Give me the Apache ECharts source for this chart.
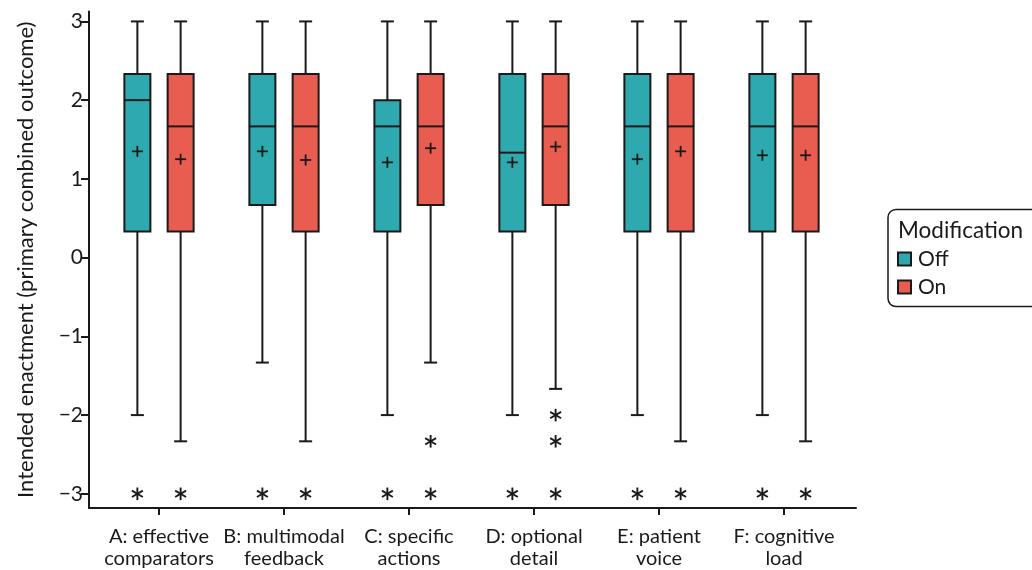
<!DOCTYPE html>
<html><head><meta charset="utf-8">
<script src="https://cdn.jsdelivr.net/npm/echarts@6/dist/echarts.min.js"></script>
<style>html,body{margin:0;padding:0;background:#fff}#c{width:1032px;height:570px}</style>
</head><body><div id="c"></div>
<script>
// ---- data ----
const categories = ['A: effective\ncomparators', 'B: multimodal\nfeedback', 'C: specific\nactions', 'D: optional\ndetail', 'E: patient\nvoice', 'F: cognitive\nload'];
const yTicks = [-3, -2, -1, 0, 1, 2, 3];
// [lower whisker, Q1, median, Q3, upper whisker]
const offBox = [
  [-2, 0.333, 2, 2.333, 3],
  [-1.333, 0.667, 1.667, 2.333, 3],
  [-2, 0.333, 1.667, 2, 3],
  [-2, 0.333, 1.333, 2.333, 3],
  [-2, 0.333, 1.667, 2.333, 3],
  [-2, 0.333, 1.667, 2.333, 3]
];
const onBox = [
  [-2.333, 0.333, 1.667, 2.333, 3],
  [-2.333, 0.333, 1.667, 2.333, 3],
  [-1.333, 0.667, 1.667, 2.333, 3],
  [-1.667, 0.667, 1.667, 2.333, 3],
  [-2.333, 0.333, 1.667, 2.333, 3],
  [-2.333, 0.333, 1.667, 2.333, 3]
];
const offMean = [1.35, 1.35, 1.21, 1.21, 1.25, 1.30];
const onMean = [1.25, 1.24, 1.39, 1.41, 1.35, 1.30];
// [category index, value]
const offOutliers = [[0, -3], [1, -3], [2, -3], [3, -3], [4, -3], [5, -3]];
const onOutliers = [[0, -3], [1, -3], [2, -2.333], [2, -3], [3, -2], [3, -2.333], [3, -3], [4, -3], [5, -3]];

// ---- style ----
const INK = '#1a1a1a';
const OFF_COLOR = '#2fa9b0';
const ON_COLOR = '#e95d50';
const OFFSET = 0.173;   // box centre offset from category, in category units
const BOX_W = 0.208;    // box width, in category units
const FONT = 'Lato, "Open Sans", sans-serif';

function boxRender(side) {
  return function (params, api) {
    const i = api.value(0);
    const unit = api.size([1, 0])[0];
    const cx = api.coord([i, 0])[0] + side * OFFSET * unit;
    const hw = BOX_W * unit / 2;
    const y = k => api.coord([i, api.value(k)])[1];
    const yLo = y(1), yQ1 = y(2), yMed = y(3), yQ3 = y(4), yHi = y(5), yMean = y(6);
    const ls = { stroke: INK, lineWidth: 2 };
    const p = 5.5;
    return {
      type: 'group',
      children: [
        { type: 'line', shape: { x1: cx, y1: yHi, x2: cx, y2: yQ3 }, style: ls },
        { type: 'line', shape: { x1: cx, y1: yQ1, x2: cx, y2: yLo }, style: ls },
        { type: 'line', shape: { x1: cx - hw / 2, y1: yHi, x2: cx + hw / 2, y2: yHi }, style: ls },
        { type: 'line', shape: { x1: cx - hw / 2, y1: yLo, x2: cx + hw / 2, y2: yLo }, style: ls },
        { type: 'rect', shape: { x: cx - hw, y: yQ3, width: 2 * hw, height: yQ1 - yQ3 }, style: { fill: api.visual('color'), stroke: INK, lineWidth: 2 } },
        { type: 'line', shape: { x1: cx - hw, y1: yMed, x2: cx + hw, y2: yMed }, style: ls },
        { type: 'line', shape: { x1: cx - p, y1: yMean, x2: cx + p, y2: yMean }, style: { stroke: INK, lineWidth: 1.8 } },
        { type: 'line', shape: { x1: cx, y1: yMean - p, x2: cx, y2: yMean + p }, style: { stroke: INK, lineWidth: 1.8 } }
      ]
    };
  };
}

function outlierRender(side) {
  return function (params, api) {
    const i = api.value(0);
    const unit = api.size([1, 0])[0];
    const pt = api.coord([i, api.value(1)]);
    const cx = pt[0] + side * OFFSET * unit, cy = pt[1];
    const r = 6.3;
    const children = [];
    for (let a = 90; a < 270; a += 60) {
      const rad = a * Math.PI / 180;
      const dx = r * Math.cos(rad), dy = r * Math.sin(rad);
      children.push({ type: 'line', shape: { x1: cx - dx, y1: cy - dy, x2: cx + dx, y2: cy + dy }, style: { stroke: INK, lineWidth: 1.9 } });
    }
    return { type: 'group', children };
  };
}

const offData = offBox.map((b, i) => [i, b[0], b[1], b[2], b[3], b[4], offMean[i]]);
const onData = onBox.map((b, i) => [i, b[0], b[1], b[2], b[3], b[4], onMean[i]]);

const chart = echarts.init(document.getElementById('c'), null, { renderer: 'canvas' });
chart.setOption({
  animation: false,
  backgroundColor: '#fff',
  textStyle: { fontFamily: FONT },
  grid: { left: 89, right: 176, top: 11.5, bottom: 62 },
  xAxis: {
    type: 'value', min: -0.56, max: 5.576,
    axisLine: { onZero: false, lineStyle: { color: INK, width: 2 } },
    axisTick: { customValues: [0, 1, 2, 3, 4, 5], length: 7, lineStyle: { color: INK, width: 2 } },
    axisLabel: { customValues: [0, 1, 2, 3, 4, 5], formatter: v => categories[Math.round(v)], color: INK, fontSize: 20, fontFamily: FONT, lineHeight: 22, margin: 18 },
    splitLine: { show: false }
  },
  yAxis: {
    type: 'value', min: -3.18, max: 3.126,
    name: 'Intended enactment (primary combined outcome)',
    nameLocation: 'middle', nameGap: 52,
    nameTextStyle: { color: INK, fontSize: 22, fontFamily: FONT },
    axisLine: { show: true, onZero: false, lineStyle: { color: INK, width: 2 } },
    axisTick: { show: true, customValues: yTicks, length: 8, lineStyle: { color: INK, width: 2 } },
    axisLabel: { customValues: yTicks, formatter: v => (v < 0 ? '\u2212' + Math.abs(v) : String(v)), color: INK, fontSize: 21, fontFamily: FONT, margin: 6 },
    splitLine: { show: false }
  },
  legend: {
    data: [
      { name: 'Off', icon: 'rect', itemStyle: { color: OFF_COLOR, borderColor: INK, borderWidth: 2 } },
      { name: 'On', icon: 'rect', itemStyle: { color: ON_COLOR, borderColor: INK, borderWidth: 2 } }
    ],
    orient: 'vertical', left: 897, top: 248,
    itemWidth: 13, itemHeight: 13, itemGap: 6,
    textStyle: { color: INK, fontSize: 21, fontFamily: FONT, lineHeight: 22, padding: [0, 0, 0, 2] },
    padding: 0
  },
  graphic: [
    { type: 'rect', shape: { x: 888, y: 209.5, width: 160, height: 97, r: 8 }, style: { fill: 'none', stroke: INK, lineWidth: 1.5 } },
    { type: 'text', x: 898, y: 231, style: { text: 'Modification', fill: INK, font: '22.5px ' + FONT, verticalAlign: 'middle' } }
  ],
  series: [
    { name: 'Off', type: 'custom', itemStyle: { color: OFF_COLOR }, renderItem: boxRender(-1), data: offData, encode: { x: 0, y: [1, 2, 3, 4, 5] } },
    { name: 'On', type: 'custom', itemStyle: { color: ON_COLOR }, renderItem: boxRender(1), data: onData, encode: { x: 0, y: [1, 2, 3, 4, 5] } },
    { name: 'Off outliers', type: 'custom', renderItem: outlierRender(-1), data: offOutliers, encode: { x: 0, y: 1 } },
    { name: 'On outliers', type: 'custom', renderItem: outlierRender(1), data: onOutliers, encode: { x: 0, y: 1 } }
  ]
});
</script>
</body></html>
